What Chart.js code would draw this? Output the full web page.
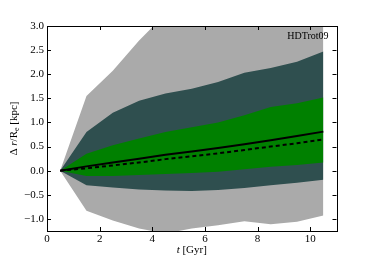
<!DOCTYPE html>
<html>
<head>
<meta charset="utf-8">
<title>HDTrot09</title>
<script src="https://cdn.jsdelivr.net/npm/chart.js@4.4.1/dist/chart.umd.min.js"></script>
<style>
  html, body { margin: 0; padding: 0; background: #fff; }
  #wrap { width: 374px; height: 257px; }
</style>
</head>
<body>
<div id="wrap"><canvas id="plotCanvas"></canvas></div>
<script>
// ===== data =====
const times = [0.5, 1.5, 2.5, 3.5, 4.5, 5.5, 6.5, 7.5, 8.5, 9.5, 10.5]
const lightHi = [0, 1.55, 2.07, 2.7, 3.25, 3.6, 3.9, 4.2, 4.5, 4.8, 5.1]
const lightLo = [0, -0.83, -1.03, -1.2, -1.3, -1.2, -1.13, -1.05, -1.11, -1.06, -0.93]
const darkHi = [0, 0.8, 1.2, 1.45, 1.6, 1.7, 1.84, 2.03, 2.13, 2.26, 2.47]
const darkLo = [0, -0.3, -0.35, -0.39, -0.41, -0.42, -0.4, -0.36, -0.3, -0.25, -0.19]
const greenHi = [0, 0.35, 0.53, 0.67, 0.8, 0.9, 1.0, 1.15, 1.32, 1.4, 1.52]
const greenLo = [0, -0.11, -0.11, -0.09, -0.07, -0.05, -0.02, 0.03, 0.08, 0.12, 0.17]
const meanLine = [0, 0.09, 0.17, 0.25, 0.33, 0.4, 0.47, 0.55, 0.63, 0.72, 0.81]
const medianLine = [0, 0.05, 0.11, 0.17, 0.24, 0.3, 0.36, 0.43, 0.5, 0.57, 0.65]

const xTicks = [0, 2, 4, 6, 8, 10]
const yTicks = [-1.0, -0.5, 0.0, 0.5, 1.0, 1.5, 2.0, 2.5, 3.0]
const label = 'HDTrot09'

const SERIF = '"Liberation Serif", "DejaVu Serif", serif'

const pts = arr => arr.map((v, i) => ({ x: times[i], y: v }))

function band(data, color, fill) {
    return {
        data: pts(data),
        borderWidth: 0,
        pointRadius: 0,
        backgroundColor: color,
        borderColor: color,
        fill: fill,
        tension: 0,
    }
}

// ===== frame, inward ticks and titles =====
const decor = {
    id: 'decor',
    afterDraw(chart) {
        const { ctx, chartArea: a, scales } = chart
        const xs = scales.x, ys = scales.y
        ctx.save()
        ctx.strokeStyle = '#000'
        ctx.lineWidth = 1
        ctx.beginPath()
        xTicks.forEach(v => {
            const px = Math.round(xs.getPixelForValue(v)) + 0.5
            ctx.moveTo(px, a.bottom); ctx.lineTo(px, a.bottom - 4)
            ctx.moveTo(px, a.top); ctx.lineTo(px, a.top + 4)
        })
        yTicks.forEach(v => {
            const py = Math.round(ys.getPixelForValue(v)) + 0.5
            ctx.moveTo(a.left, py); ctx.lineTo(a.left + 4, py)
            ctx.moveTo(a.right, py); ctx.lineTo(a.right - 4, py)
        })
        ctx.stroke()
        ctx.strokeRect(Math.round(a.left) + 0.5, Math.round(a.top) + 0.5,
            Math.round(a.right - a.left), Math.round(a.bottom - a.top))

        ctx.fillStyle = '#000'
        ctx.textBaseline = 'alphabetic'
        // annotation
        ctx.font = '10px ' + SERIF
        ctx.textAlign = 'right'
        ctx.fillText(label, a.right - 8, a.top + 13)

        // x title
        ctx.font = 'italic 11px ' + SERIF
        const t1 = 't'
        ctx.textAlign = 'left'
        const w1 = ctx.measureText(t1).width
        ctx.font = '11px ' + SERIF
        const t2 = ' [Gyr]'
        const w2 = ctx.measureText(t2).width
        let x0 = (a.left + a.right) / 2 - (w1 + w2) / 2
        ctx.font = 'italic 11px ' + SERIF
        ctx.fillText(t1, x0, 253)
        ctx.font = '11px ' + SERIF
        ctx.fillText(t2, x0 + w1, 253)

        // y title
        ctx.translate(17, (a.top + a.bottom) / 2)
        ctx.rotate(-Math.PI / 2)
        const parts = [
            ['Δ', '11px ', 0],
            [' ', '11px ', 0],
            ['r', 'italic 11px ', 0],
            ['/R', '11px ', 0],
            ['e', '8px ', 2],
            [' [kpc]', '11px ', 0],
        ]
        let total = 0
        parts.forEach(p => { ctx.font = p[1] + SERIF; total += ctx.measureText(p[0]).width })
        let cx = -total / 2
        parts.forEach(p => {
            ctx.font = p[1] + SERIF
            ctx.fillText(p[0], cx, p[2])
            cx += ctx.measureText(p[0]).width
        })
        ctx.restore()
    }
}

const chart = new Chart(document.getElementById('plotCanvas'), {
    type: 'line',
    data: {
        datasets: [
            { data: pts(meanLine), borderColor: '#000', borderWidth: 2, pointRadius: 0, fill: false },
            { data: pts(medianLine), borderColor: '#000', borderWidth: 2, borderDash: [4, 3], pointRadius: 0, fill: false },
            band(greenHi, '#008000', '+1'),
            band(greenLo, '#008000', false),
            band(darkHi, '#2f4f4f', '+1'),
            band(darkLo, '#2f4f4f', false),
            band(lightHi, '#aaaaaa', '+1'),
            band(lightLo, '#aaaaaa', false),
        ],
    },
    options: {
        responsive: true,
        maintainAspectRatio: false,
        animation: false,
        layout: { padding: { top: 26, right: 37.5, left: 0, bottom: 0 } },
        plugins: {
            legend: { display: false },
            tooltip: { enabled: false },
        },
        scales: {
            x: {
                type: 'linear',
                min: 0,
                max: 11,
                afterBuildTicks: s => { s.ticks = xTicks.map(v => ({ value: v })) },
                afterFit: s => { s.height = 26 },
                grid: { display: false, drawTicks: false },
                border: { display: false },
                ticks: {
                    padding: 2,
                    color: '#000',
                    font: { family: SERIF, size: 11 },
                    callback: v => String(v),
                },
            },
            y: {
                type: 'linear',
                min: -1.25,
                max: 3.0,
                afterBuildTicks: s => { s.ticks = yTicks.map(v => ({ value: v })) },
                afterFit: s => { s.width = 47 },
                grid: { display: false, drawTicks: false },
                border: { display: false },
                ticks: {
                    padding: 3,
                    color: '#000',
                    font: { family: SERIF, size: 11 },
                    callback: v => v.toFixed(1).replace('-', '\u2212'),
                },
            },
        },
    },
    plugins: [decor],
})
</script>
</body>
</html>
